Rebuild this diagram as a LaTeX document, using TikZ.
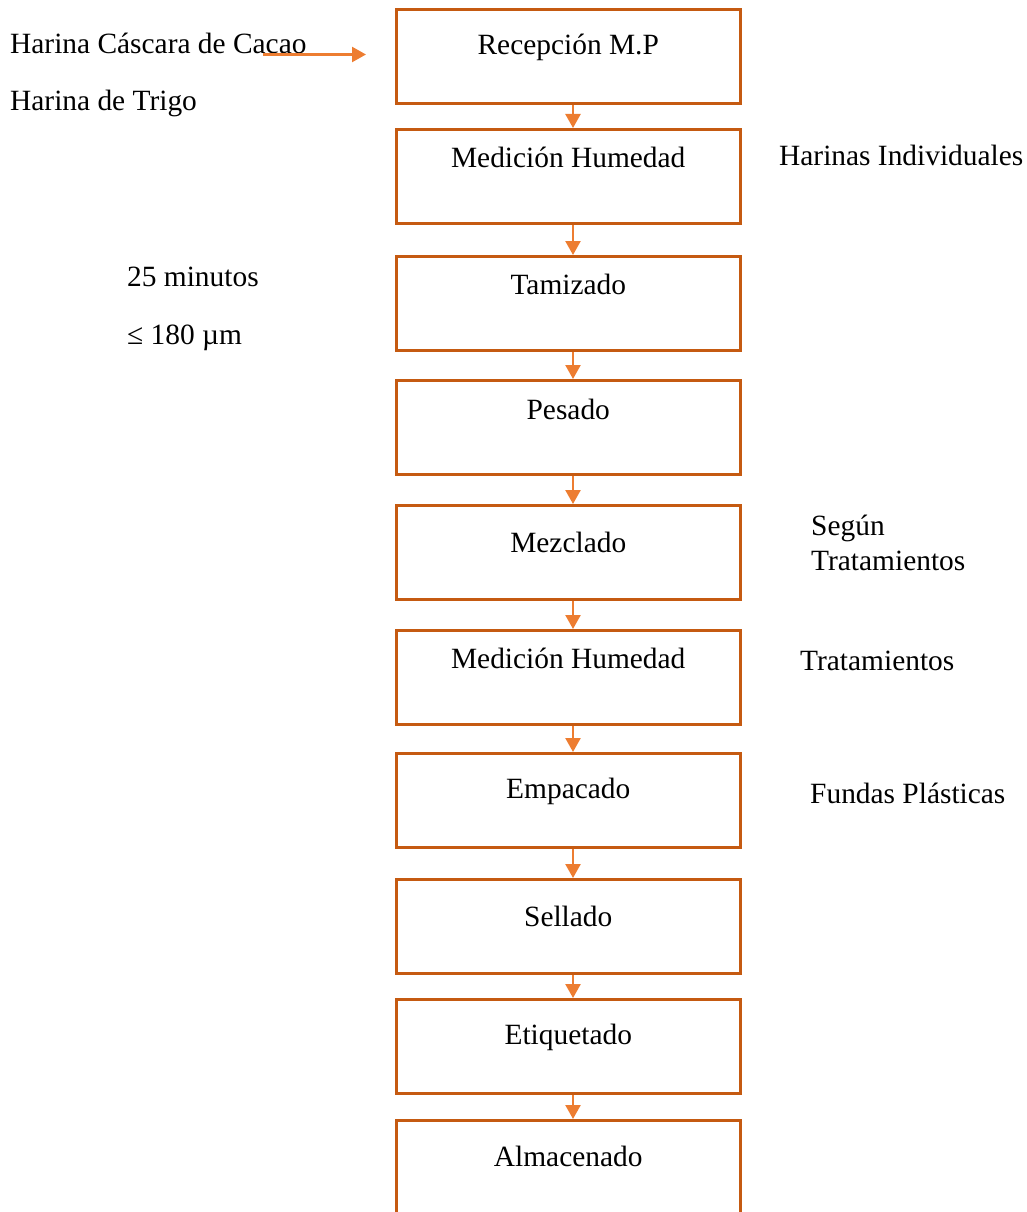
\documentclass[tikz,border=0pt]{standalone}
\usepackage{fontspec}
\setmainfont{Liberation Serif}
\usetikzlibrary{arrows.meta}
\definecolor{boxorange}{HTML}{C55A11}
\definecolor{arrorange}{HTML}{ED7D31}
\tikzset{
  txt/.style={font=\fontsize{29.4}{35}\selectfont, inner sep=0pt, text=black},
  stepbox/.style 2 args={txt, draw=boxorange, line width=3pt, minimum width=343.5pt,
    inner xsep=0pt, inner ysep=0pt, text height=#1pt, text depth=#2pt, anchor=north},
  lbl/.style={txt, anchor=base west},
  flow/.style={draw=arrorange, line width=2.4pt, -{Triangle[width=15pt,length=14pt]}},
}
\begin{document}
\begin{tikzpicture}[x=1pt,y=-1pt]
\useasboundingbox (0,0) rectangle (1027,1212);
\node[stepbox={45}{49}] (b1) at (568.25,8) {Recepción M.P};
\node[stepbox={38}{56}] (b2) at (568.25,128) {Medición Humedad};
\node[stepbox={38}{56}] (b3) at (568.25,255) {Tamizado};
\node[stepbox={39}{55}] (b4) at (568.25,379) {Pesado};
\node[stepbox={47}{47}] (b5) at (568.25,504) {Mezclado};
\node[stepbox={38}{56}] (b6) at (568.25,629) {Medición Humedad};
\node[stepbox={45}{49}] (b7) at (568.25,752) {Empacado};
\node[stepbox={47}{47}] (b8) at (568.25,878) {Sellado};
\node[stepbox={45}{49}] (b9) at (568.25,998) {Etiquetado};
\node[stepbox={46}{52}] (b10) at (568.25,1119) {Almacenado};

\node[lbl] (h1) at (10,53.5) {Harina Cáscara de Cacao};
\node[lbl] (h2) at (10,110.5) {Harina de Trigo};
\node[lbl] (hi) at (779,165) {Harinas Individuales};
\node[lbl] (t1) at (127,286) {25 minutos};
\node[lbl] (t2) at (127,344) {≤ 180 µm};
\node[lbl] (s1) at (811,535) {Según};
\node[lbl] (s2) at (811,570) {Tratamientos};
\node[lbl] (tr) at (800,670) {Tratamientos};
\node[lbl] (fp) at (810,803) {Fundas Plásticas};

\coordinate (in1) at (263,54.5);
\coordinate (in2) at (366,54.5);
\draw[flow] (in1) -- (in2);

\foreach \a/\b in {b1/b2,b2/b3,b3/b4,b4/b5,b5/b6,b6/b7,b7/b8,b8/b9,b9/b10}{
  \draw[flow] ([xshift=4.75pt]\a.south) -- ([xshift=4.75pt]\b.north);
}
\end{tikzpicture}
\end{document}
